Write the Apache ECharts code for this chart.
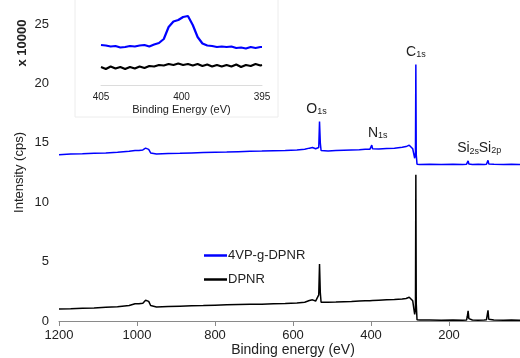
<!DOCTYPE html>
<html>
<head>
<meta charset="utf-8">
<script src="https://cdn.jsdelivr.net/npm/echarts@6.0.0/dist/echarts.min.js"></script>
<style>
  html, body { margin: 0; padding: 0; background: #fff; }
  #chart { width: 520px; height: 358px; }
</style>
</head>
<body>
<div id="chart"></div>
<script>
// survey spectrum, binding energy in eV, intensity in units of 10000 cps
const energy = [1200, 1170, 1140, 1110, 1080, 1050, 1020, 1005, 1000, 995, 985, 978, 974, 970, 965, 960, 950, 920, 890, 860,
  830, 800, 770, 740, 710, 680, 650, 620, 590, 570, 558, 550, 542, 537, 534, 532, 530, 528, 524, 510,
  490, 470, 450, 430, 415, 403, 400, 398, 396, 392, 380, 360, 340, 320, 310, 302, 297, 293, 290, 288,
  286, 285, 284, 282, 275, 250, 220, 190, 165, 155, 153, 151, 149, 140, 125, 110, 104, 102, 100, 98,
  85, 60, 40, 20, 0]
const graftedY = [14.00, 14.05, 14.08, 14.12, 14.15, 14.20, 14.28, 14.35, 14.42, 14.35, 14.40, 14.55, 14.62, 14.45, 14.15, 14.05, 14.05, 14.10, 14.12, 14.15,
  14.18, 14.20, 14.22, 14.25, 14.28, 14.30, 14.33, 14.36, 14.40, 14.45, 14.55, 14.60, 14.50, 14.35, 14.60, 16.80, 15.00, 14.35, 14.30, 14.32,
  14.35, 14.38, 14.40, 14.42, 14.45, 14.45, 14.55, 14.80, 14.50, 14.45, 14.48, 14.52, 14.55, 14.62, 14.68, 14.80, 14.85, 14.50, 14.00, 13.70,
  14.20, 21.60, 14.00, 13.20, 13.18, 13.20, 13.18, 13.20, 13.18, 13.20, 13.30, 13.48, 13.22, 13.18, 13.20, 13.18, 13.20, 13.35, 13.52, 13.22,
  13.20, 13.18, 13.20, 13.18, 13.20]
const dpnrY = [1.00, 1.03, 1.08, 1.10, 1.15, 1.20, 1.30, 1.45, 1.55, 1.45, 1.50, 1.75, 1.88, 1.65, 1.30, 1.18, 1.18, 1.22, 1.25, 1.28,
  1.30, 1.33, 1.36, 1.38, 1.40, 1.42, 1.45, 1.48, 1.52, 1.58, 1.72, 1.78, 1.68, 1.55, 2.20, 4.80, 2.40, 1.58, 1.55, 1.58,
  1.60, 1.63, 1.65, 1.68, 1.70, 1.70, 1.72, 1.72, 1.72, 1.74, 1.75, 1.78, 1.80, 1.85, 1.90, 2.00, 2.05, 1.70, 1.00, 0.55,
  1.00, 12.30, 1.50, 0.10, 0.08, 0.08, 0.07, 0.08, 0.07, 0.08, 0.40, 0.85, 0.20, 0.08, 0.07, 0.08, 0.10, 0.50, 0.90, 0.15,
  0.08, 0.07, 0.08, 0.07, 0.08]

// N1s region (inset), arbitrary units
const insetEnergy = [405, 404.7, 404.4, 404.1, 403.8, 403.5, 403.2, 402.9, 402.6, 402.3, 402, 401.7, 401.4, 401.1, 400.8, 400.5, 400.2, 399.9,
  399.6, 399.3, 399, 398.7, 398.4, 398.1, 397.8, 397.5, 397.2, 396.9, 396.6, 396.3, 396, 395.7, 395.4, 395.1, 395]
const insetGrafted = [40, 39.5, 38.5, 39, 37.5, 38, 39, 38.5, 39.5, 40, 38.5, 40.5, 42, 46, 58, 63.5, 65, 68,
  69, 60, 48, 41.5, 39.5, 39, 38, 38.5, 38, 38.5, 37, 37.5, 36.5, 38, 37, 38, 38]
const insetDpnr = [18, 16, 18.5, 16.5, 18, 16, 18, 16.5, 18.5, 17, 19, 18.5, 20, 19.5, 21, 20, 21.5, 20,
  21, 19.5, 21, 19, 20.5, 18.5, 20, 18.5, 20, 18.5, 20.5, 18, 20, 19, 21, 19.5, 20]

const peakLabels = [
  { el: 'C', sub: '1s', x: 285, y: 21.6, dx: 0 },
  { el: 'O', sub: '1s', x: 532, y: 16.8, dx: -3 },
  { el: 'N', sub: '1s', x: 398, y: 14.8, dx: 6 },
  { el: 'Si', sub: '2s', x: 151, y: 13.48, dx: 0 },
  { el: 'Si', sub: '2p', x: 100, y: 13.52, dx: 2 }
]

const font = "'Liberation Sans', Arial, sans-serif"
const pairs = (xs, ys) => xs.map((x, i) => [x, ys[i]])

const chart = echarts.init(document.getElementById('chart'))

chart.setOption({
  animation: false,
  textStyle: { fontFamily: font },
  grid: [
    { left: 59, width: 468, top: 24, height: 297, outerBoundsMode: 'none', containLabel: false },
    { left: 101, width: 161, top: 10, height: 75, outerBoundsMode: 'none', containLabel: false, z: 5 }
  ],
  graphic: [
    {
      type: 'rect', z: -10,
      shape: { x: 75, y: -1, width: 203, height: 118 },
      style: { fill: '#fff', stroke: '#ececec', lineWidth: 1 }
    },
    {
      type: 'text', z: 5, x: 22, y: 43, rotation: Math.PI / 2,
      style: { text: 'x 10000', font: 'bold 13px ' + font, fill: '#222', align: 'center', verticalAlign: 'middle' }
    }
  ],
  legend: {
    data: ['4VP-g-DPNR', 'DPNR'],
    orient: 'vertical',
    left: 199, top: 244,
    icon: 'rect', itemWidth: 23, itemHeight: 2.5, itemGap: 11,
    textStyle: { fontSize: 13, color: '#222', fontFamily: font, padding: [0, 0, 0, -4] }
  },
  xAxis: [
    {
      gridIndex: 0, type: 'value', inverse: true, min: 0, max: 1200, interval: 200,
      name: 'Binding energy (eV)', nameLocation: 'middle', nameGap: 22, nameMoveOverlap: false,
      nameTextStyle: { fontSize: 14, color: '#222' },
      axisLine: { lineStyle: { color: '#8a8a8a' } },
      axisTick: { length: 5, lineStyle: { color: '#8a8a8a' } },
      axisLabel: { fontSize: 13, color: '#222', margin: 8, formatter: v => v === 0 ? '' : v },
      splitLine: { show: false }
    },
    {
      gridIndex: 1, type: 'value', inverse: true, min: 395, max: 405, interval: 5, z: 5,
      name: 'Binding Energy (eV)', nameLocation: 'middle', nameGap: 19, nameMoveOverlap: false,
      nameTextStyle: { fontSize: 11, color: '#222' },
      axisLine: { lineStyle: { color: '#dcdcdc' } },
      axisTick: { show: false },
      axisLabel: { fontSize: 10, color: '#222', margin: 7 },
      splitLine: { show: false }
    }
  ],
  yAxis: [
    {
      gridIndex: 0, type: 'value', min: 0, max: 25, interval: 5,
      name: 'Intensity (cps)', nameLocation: 'middle', nameGap: 33, nameMoveOverlap: false,
      nameTextStyle: { fontSize: 13, color: '#222' },
      axisLine: { show: true, lineStyle: { color: '#8a8a8a' } },
      axisTick: { show: true, length: 5, lineStyle: { color: '#8a8a8a' } },
      axisLabel: { fontSize: 13, color: '#222', margin: 10 },
      splitLine: { show: false }
    },
    { gridIndex: 1, type: 'value', min: 0, max: 75, show: false }
  ],
  series: [
    {
      name: '4VP-g-DPNR', type: 'line', xAxisIndex: 0, yAxisIndex: 0,
      data: pairs(energy, graftedY), showSymbol: false, color: '#0000ff',
      lineStyle: { width: 1.5 },
      markPoint: {
        symbol: 'circle', symbolSize: 0,
        label: {
          show: true, position: 'top', distance: 5, color: '#222',
          formatter: p => '{a|' + p.data.el + '}{b|' + p.data.sub + '}',
          rich: {
            a: { fontSize: 14, color: '#222', fontFamily: font },
            b: { fontSize: 9, color: '#222', fontFamily: font, verticalAlign: 'bottom', padding: [6, 0, 0, 0] }
          }
        },
        data: peakLabels.map(p => ({ coord: [p.x, p.y], el: p.el, sub: p.sub, label: { offset: [p.dx, 0] } }))
      }
    },
    {
      name: 'DPNR', type: 'line', xAxisIndex: 0, yAxisIndex: 0,
      data: pairs(energy, dpnrY), showSymbol: false, color: '#000',
      lineStyle: { width: 1.5 }
    },
    {
      name: 'inset-grafted', type: 'line', xAxisIndex: 1, yAxisIndex: 1,
      data: pairs(insetEnergy, insetGrafted), showSymbol: false, color: '#0000ff',
      lineStyle: { width: 2.2 }, z: 10
    },
    {
      name: 'inset-dpnr', type: 'line', xAxisIndex: 1, yAxisIndex: 1,
      data: pairs(insetEnergy, insetDpnr), showSymbol: false, color: '#000',
      lineStyle: { width: 2.2 }, z: 10
    }
  ]
})
</script>
</body>
</html>
